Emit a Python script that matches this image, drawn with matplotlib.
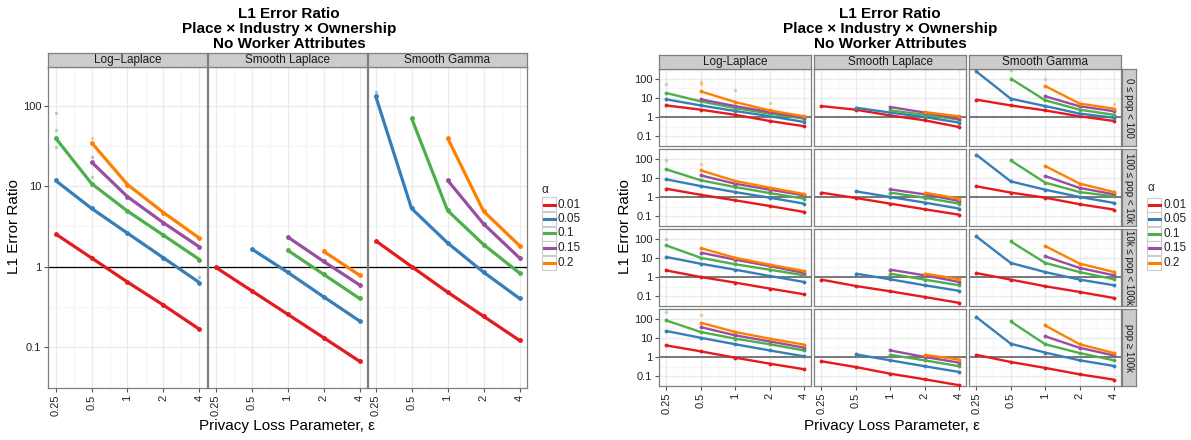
import numpy as np
import matplotlib
matplotlib.use("Agg")
import matplotlib.pyplot as plt
from matplotlib.patches import Rectangle
from matplotlib.lines import Line2D

plt.rcParams['font.family'] = ['Liberation Sans', 'DejaVu Sans']

# ---------------- data ----------------
eps = [0.25, 0.5, 1, 2, 4]
eps_labels = ['0.25', '0.5', '1', '2', '4']
alphas = ['0.01', '0.05', '0.1', '0.15', '0.2']
colors = ['#E41A1C', '#377EB8', '#4DAF4A', '#984EA3', '#FF7F00']
mechanisms_left = ['Log\u2212Laplace', 'Smooth Laplace', 'Smooth Gamma']
mechanisms_right = ['Log-Laplace', 'Smooth Laplace', 'Smooth Gamma']
pop_groups = ['0 \u2264 pop < 100', '100 \u2264 pop < 10k', '10k \u2264 pop < 100k', 'pop \u2265 100k']
nan = np.nan

# left chart: mechanism -> one row per alpha (values at eps)
left_loglaplace = [[2.55, 1.28, 0.64, 0.33, 0.165],
                   [11.8, 5.3, 2.6, 1.28, 0.63],
                   [40, 10.8, 4.9, 2.45, 1.22],
                   [nan, 20, 7.4, 3.5, 1.75],
                   [nan, 35, 10.5, 4.7, 2.25]]
left_smoothlaplace = [[0.98, 0.50, 0.255, 0.13, 0.066],
                      [nan, 1.66, 0.85, 0.42, 0.21],
                      [nan, nan, 1.6, 0.8, 0.40],
                      [nan, nan, 2.34, 1.16, 0.59],
                      [nan, nan, nan, 1.55, 0.78]]
left_smoothgamma = [[2.1, 1.0, 0.48, 0.24, 0.12],
                    [135, 5.3, 1.97, 0.85, 0.40],
                    [nan, 71, 5.0, 1.88, 0.83],
                    [nan, nan, 11.9, 3.4, 1.28],
                    [nan, nan, 40, 4.9, 1.82]]
left_data = [left_loglaplace, left_smoothlaplace, left_smoothgamma]

# right chart: population row -> mechanism -> alpha rows
r1_loglaplace = [[4.0, 2.4, 1.3, 0.62, 0.33],
                 [8.3, 4.0, 2.05, 1.1, 0.55],
                 [17.7, 6.5, 2.9, 1.5, 0.82],
                 [nan, 8.3, 3.7, 1.8, 0.92],
                 [nan, 21.6, 6.0, 2.2, 1.08]]
r1_smoothlaplace = [[3.7, 2.4, 1.2, 0.67, 0.30],
                    [nan, 3.05, 1.7, 1.0, 0.51],
                    [nan, nan, 2.2, 1.3, 0.73],
                    [nan, nan, 3.3, 1.7, 0.82],
                    [nan, nan, nan, 1.8, 1.08]]
r1_smoothgamma = [[8.0, 4.0, 2.2, 1.08, 0.62],
                  [236, 9.0, 3.7, 1.5, 0.92],
                  [nan, 100, 7.4, 2.4, 1.3],
                  [nan, nan, 11.9, 3.6, 2.0],
                  [nan, nan, 41, 5.0, 2.7]]
r2_loglaplace = [[2.7, 1.3, 0.67, 0.34, 0.166],
                 [8.3, 3.7, 1.8, 0.92, 0.45],
                 [27.5, 7.4, 3.3, 1.6, 0.82],
                 [nan, 13.4, 4.9, 2.4, 1.22],
                 [nan, 24.4, 6.8, 3.05, 1.43]]
r2_smoothlaplace = [[1.68, 0.89, 0.45, 0.23, 0.12],
                    [nan, 1.97, 1.0, 0.51, 0.25],
                    [nan, nan, 1.68, 0.92, 0.45],
                    [nan, nan, 2.5, 1.38, 0.62],
                    [nan, nan, nan, 1.68, 0.82]]
r2_smoothgamma = [[3.6, 1.7, 0.92, 0.42, 0.22],
                  [160, 6.5, 2.4, 1.0, 0.49],
                  [nan, 80, 5.6, 1.8, 1.08],
                  [nan, nan, 12.4, 2.95, 1.38],
                  [nan, nan, 41, 5.0, 1.8]]
r3_loglaplace = [[2.2, 1.0, 0.51, 0.25, 0.126],
                 [11, 4.9, 2.4, 1.13, 0.55],
                 [44, 10, 4.6, 2.4, 1.22],
                 [nan, 18.5, 8.0, 3.7, 1.6],
                 [nan, 32, 10, 4.4, 2.05]]
r3_smoothlaplace = [[0.73, 0.34, 0.18, 0.091, 0.045],
                    [nan, 1.5, 0.76, 0.37, 0.19],
                    [nan, nan, 1.5, 0.73, 0.37],
                    [nan, nan, 2.4, 1.22, 0.55],
                    [nan, nan, nan, 1.5, 0.76]]
r3_smoothgamma = [[1.6, 0.73, 0.33, 0.166, 0.08],
                  [130, 5.4, 1.8, 0.73, 0.37],
                  [nan, 71, 5.4, 1.8, 0.76],
                  [nan, nan, 11.9, 2.95, 1.22],
                  [nan, nan, 41, 5.0, 1.8]]
r4_loglaplace = [[4.0, 1.97, 0.92, 0.45, 0.23],
                 [22.5, 10, 4.6, 2.2, 1.08],
                 [80, 20, 9.0, 4.6, 2.2],
                 [nan, 36, 13.4, 6.5, 3.05],
                 [nan, 61, 20, 9.0, 4.4]]
r4_smoothlaplace = [[0.6, 0.30, 0.135, 0.069, 0.034],
                    [nan, 1.38, 0.67, 0.33, 0.166],
                    [nan, nan, 1.3, 0.67, 0.33],
                    [nan, nan, 2.2, 1.0, 0.51],
                    [nan, nan, nan, 1.3, 0.73]]
r4_smoothgamma = [[1.3, 0.55, 0.27, 0.125, 0.066],
                  [120, 4.9, 1.7, 0.67, 0.34],
                  [nan, 71, 4.6, 1.6, 0.67],
                  [nan, nan, 11.9, 3.0, 1.2],
                  [nan, nan, 44, 4.6, 1.6]]
right_data = [[r1_loglaplace, r1_smoothlaplace, r1_smoothgamma],
              [r2_loglaplace, r2_smoothlaplace, r2_smoothgamma],
              [r3_loglaplace, r3_smoothlaplace, r3_smoothgamma],
              [r4_loglaplace, r4_smoothlaplace, r4_smoothgamma]]

# a few individual (replicate) points visible away from the means:
# (row, panel, alpha index, eps, value)
left_raw = [(0, 0, 2, 0.25, 82), (0, 0, 2, 0.25, 50), (0, 0, 2, 0.25, 31),
            (0, 0, 4, 0.5, 40), (0, 0, 3, 0.5, 23), (0, 0, 2, 0.5, 13),
            (0, 0, 1, 4, 0.75), (0, 2, 1, 0.25, 150)]
right_raw = [(0, 0, 2, 0.25, 50), (0, 0, 4, 0.5, 66), (0, 0, 4, 0.5, 50),
             (0, 0, 4, 1, 24), (0, 0, 4, 2, 5.4), (0, 2, 2, 0.5, 270),
             (0, 2, 4, 1, 91), (0, 2, 4, 4, 5.0), (1, 0, 2, 0.25, 80),
             (1, 0, 4, 0.5, 50), (2, 0, 2, 0.25, 100), (3, 0, 2, 0.25, 220),
             (3, 0, 4, 0.5, 147)]

# ---------------- layout helpers ----------------
W, H = 1191, 440
fig = plt.figure(figsize=(W / 100, H / 100), dpi=100)

def fx(x):
    return x / W

def fy(y):
    return 1 - y / H

def make_axes(x0, y0, x1, y1):
    return fig.add_axes([fx(x0), fy(y1), fx(x1) - fx(x0), fy(y0) - fy(y1)])

YLIM = (10 ** -1.51, 10 ** 2.482)
XLIM = (0.25 * 2 ** -0.2, 4 * 2 ** 0.2)
GRID_MAJ = '#EBEBEB'
GRID_MIN = '#F5F5F5'
BORDER = '#7F7F7F'
TXT = '#222222'


def style_axes(ax, show_x, show_y, tick_fs):
    ax.set_xscale('log', base=2)
    ax.set_yscale('log')
    ax.set_xlim(*XLIM)
    ax.set_ylim(*YLIM)
    ax.set_xticks(eps)
    ax.set_yticks([0.1, 1, 10, 100])
    ax.xaxis.set_minor_locator(matplotlib.ticker.NullLocator())
    ax.yaxis.set_minor_locator(matplotlib.ticker.NullLocator())
    for e in [0.25 * 2 ** 0.5, 0.5 * 2 ** 0.5, 2 ** 0.5, 2 * 2 ** 0.5]:
        ax.axvline(e, color=GRID_MIN, lw=0.8, zorder=0)
    for v in [10 ** -0.5, 10 ** 0.5, 10 ** 1.5]:
        ax.axhline(v, color=GRID_MIN, lw=0.8, zorder=0)
    for e in eps:
        ax.axvline(e, color=GRID_MAJ, lw=1.0, zorder=0.5)
    for v in [0.1, 1, 10, 100]:
        ax.axhline(v, color=GRID_MAJ, lw=1.0, zorder=0.5)
    for s in ax.spines.values():
        s.set_color(BORDER)
        s.set_linewidth(0.9)
    if show_x:
        ax.set_xticklabels(eps_labels, rotation=90, fontsize=tick_fs, color=TXT)
        ax.tick_params(axis='x', length=3, color='#555555', pad=2)
    else:
        ax.set_xticklabels([])
        ax.tick_params(axis='x', length=0)
    if show_y:
        ax.set_yticklabels(['0.1', '1', '10', '100'], fontsize=tick_fs, color=TXT)
        ax.tick_params(axis='y', length=3, color='#555555', pad=2)
    else:
        ax.set_yticklabels([])
        ax.tick_params(axis='y', length=0)


def draw_series(ax, data, lw, ms):
    for ai, vals in enumerate(data):
        ax.plot(eps, vals, color=colors[ai], lw=lw, solid_capstyle='butt', zorder=3)
        ax.plot(eps, vals, 'o', color=colors[ai], ms=ms, zorder=4, mew=0)


def strip(x0, y0, x1, y1, text, fs, rotation=0):
    sax = make_axes(x0, y0, x1, y1)
    sax.set_facecolor('#CCCCCC')
    sax.set_xticks([])
    sax.set_yticks([])
    for s in sax.spines.values():
        s.set_color(BORDER)
        s.set_linewidth(0.9)
    sax.text(0.5, 0.5, text, ha='center', va='center', fontsize=fs,
             color='#1A1A1A', rotation=rotation, transform=sax.transAxes)


def legend(xk, ytitle, ys, fs):
    fig.text(fx(xk), fy(ytitle), '\u03b1', fontsize=fs, ha='left', va='center',
             color=TXT)
    for ai, y in enumerate(ys):
        fig.patches.append(Rectangle((fx(xk), fy(y + 7)), fx(14), 14 / H,
                                     transform=fig.transFigure, facecolor='white',
                                     edgecolor='#CCCCCC', lw=0.8))
        fig.lines.append(Line2D([fx(xk + 1.5), fx(xk + 12.5)], [fy(y), fy(y)],
                                transform=fig.transFigure, color=colors[ai], lw=2.2))
        fig.text(fx(xk + 16), fy(y), alphas[ai], fontsize=fs, ha='left',
                 va='center', color=TXT)


title = 'L1 Error Ratio\nPlace \u00d7 Industry \u00d7 Ownership\nNo Worker Attributes'

# ---------------- left chart ----------------
lx = [(48.3, 206.7), (208.3, 366.7), (368.3, 526.7)]
ly = (67.3, 387.7)
for pi, (x0, x1) in enumerate(lx):
    ax = make_axes(x0, ly[0], x1, ly[1])
    style_axes(ax, True, pi == 0, 8)
    ax.axhline(1, color='black', lw=0.9, zorder=2)
    draw_series(ax, left_data[pi], 2.3, 3.5)
    for (r, p, a, e, v) in left_raw:
        if p == pi:
            ax.plot(e, v, 'o', color=colors[a], alpha=0.4, ms=2.5, mew=0, zorder=2)
    strip(x0, 53.3, x1, 67.3, mechanisms_left[pi], 8.5)

fig.text(fx(289), fy(29), title, ha='center', va='center', fontsize=11,
         fontweight='bold', linespacing=1.05, color='black')
fig.text(fx(287), fy(426), 'Privacy Loss Parameter, \u03b5', ha='center',
         va='center', fontsize=11, color='black')
fig.text(fx(14), fy(227), 'L1 Error Ratio', ha='center', va='center',
         fontsize=11, rotation=90, color='black')
legend(542, 190, [204.5, 219, 233.5, 248, 262.5], 8.5)

# ---------------- right chart ----------------
rx = [(659.3, 811), (814.3, 966), (969.3, 1121)]
ry = [(69.3, 146), (149.3, 226), (229.3, 306), (309.3, 386)]
for ri, (y0, y1) in enumerate(ry):
    for pi, (x0, x1) in enumerate(rx):
        ax = make_axes(x0, y0, x1, y1)
        style_axes(ax, ri == 3, pi == 0, 8)
        ax.axhline(1, color='#6E6E6E', lw=1.3, zorder=2)
        draw_series(ax, right_data[ri][pi], 1.7, 2.8)
        for (r, p, a, e, v) in right_raw:
            if r == ri and p == pi:
                ax.plot(e, v, 'o', color=colors[a], alpha=0.4, ms=2.5, mew=0, zorder=2)
        if ri == 0:
            strip(x0, 55.3, x1, 69.3, mechanisms_right[pi], 8.5)
    strip(1121.7, y0, 1136, y1, pop_groups[ri], 7, rotation=-90)

fig.text(fx(890), fy(29), title, ha='center', va='center', fontsize=11,
         fontweight='bold', linespacing=1.05, color='black')
fig.text(fx(892), fy(426), 'Privacy Loss Parameter, \u03b5', ha='center',
         va='center', fontsize=11, color='black')
fig.text(fx(625), fy(227), 'L1 Error Ratio', ha='center', va='center',
         fontsize=11, rotation=90, color='black')
legend(1147, 188, [205, 219.3, 234, 248.3, 262.7], 8.5)

fig.savefig('out.png', dpi=100, facecolor='white')
